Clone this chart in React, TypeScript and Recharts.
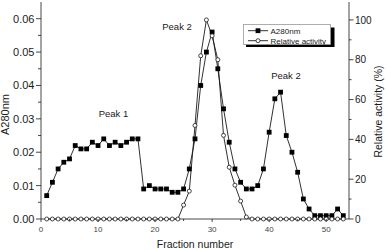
import React from 'react';
import { ComposedChart, Line, XAxis, YAxis, ReferenceDot, Legend } from 'recharts';

const FONT = "'Liberation Sans', Arial, Helvetica, sans-serif";
const INK = '#1a1a1a';

const fractions = [
  1, 2, 3, 4, 5, 6, 7, 8, 9, 10,
  11, 12, 13, 14, 15, 16, 17, 18, 19, 20,
  21, 22, 23, 24, 25, 26, 27, 28, 29, 30,
  31, 32, 33, 34, 35, 36, 37, 38, 39, 40,
  41, 42, 43, 44, 45, 46, 47, 48, 49, 50,
  51, 52, 53,
];

const a280 = [
  0.007, 0.011, 0.015, 0.017, 0.018, 0.022, 0.021, 0.021, 0.023, 0.022,
  0.024, 0.022, 0.023, 0.022, 0.023, 0.024, 0.024, 0.009, 0.010, 0.009,
  0.009, 0.009, 0.008, 0.008, 0.009, 0.015, 0.024, 0.040, 0.050, 0.056,
  0.045, 0.033, 0.023, 0.015, 0.011, 0.009, 0.009, 0.010, 0.015, 0.026,
  0.036, 0.038, 0.025, 0.020, 0.014, 0.006, 0.003, 0.001, 0.001, 0.001,
  0.001, 0.003, 0.001,
];

const activity = [
  0, 0, 0, 0, 0, 0, 0, 0, 0, 0,
  0, 0, 0, 0, 0, 0, 0, 0, 0, 0,
  0, 0, 0, 0, 7, 14, 47, 82, 100, 92,
  80, 42, 26, 17, 9, 1, 0, 0, 0, 0,
  0, 0, 0, 0, 0, 0, 0, 0, 0, 0,
  0, 0, 0,
];

const xTicks = [0, 5, 10, 15, 20, 25, 30, 35, 40, 45, 50];
const xLabels = [0, 10, 20, 30, 40, 50];
const leftTicks = [0, 0.005, 0.01, 0.015, 0.02, 0.025, 0.03, 0.035, 0.04, 0.045, 0.05, 0.055, 0.06];
const leftLabels = [0, 0.01, 0.02, 0.03, 0.04, 0.05, 0.06];
const rightTicks = [0, 10, 20, 30, 40, 50, 60, 70, 80, 90, 100];
const rightLabels = [0, 20, 40, 60, 80, 100];

const peakText = ['Peak 1', 'Peak 2', 'Peak 2'];
const peakFraction = [12.7, 23.85, 42.95];
const peakA280 = [0.0317, 0.0575, 0.0428];

const data = fractions.map((f, i) => ({ fraction: f, a280: a280[i], activity: activity[i] }));

const inList = (v: number, list: number[]) => list.some((l) => Math.abs(l - v) < 1e-9);

const BottomTick = (p: any) => {
  const v = p.payload.value;
  const major = inList(v, xLabels);
  return (
    <g>
      <line x1={p.x} x2={p.x} y1={p.y} y2={p.y + (major ? 3 : 2)} stroke={INK} strokeWidth={0.8} />
      {major && (
        <text x={p.x} y={p.y + 13} textAnchor="middle" fontSize={8} fill="#444" fontFamily={FONT}>
          {v}
        </text>
      )}
    </g>
  );
};

const TopTick = (p: any) => {
  const v = p.payload.value;
  if (v === 0) return <g />;
  return <line x1={p.x} x2={p.x} y1={p.y} y2={p.y + 3.5} stroke={INK} strokeWidth={0.8} />;
};

const LeftTick = (p: any) => {
  const v = p.payload.value;
  const major = inList(v, leftLabels);
  return (
    <g>
      <line x1={p.x - (major ? 5 : 3)} x2={p.x} y1={p.y} y2={p.y} stroke={INK} strokeWidth={0.8} />
      {major && (
        <text x={p.x - 6.5} y={p.y + 4} textAnchor="end" fontSize={11} fill={INK} fontFamily={FONT}>
          {v.toFixed(2)}
        </text>
      )}
    </g>
  );
};

const RightTick = (p: any) => {
  const v = p.payload.value;
  const major = inList(v, rightLabels);
  return (
    <g>
      <line x1={p.x} x2={p.x + (major ? 4.5 : 2.5)} y1={p.y} y2={p.y} stroke={INK} strokeWidth={0.8} />
      {major && (
        <text x={p.x + 6} y={p.y + 3.6} textAnchor="start" fontSize={10} fill={INK} fontFamily={FONT}>
          {v}
        </text>
      )}
    </g>
  );
};

const SquareDot = (p: any) => {
  if (p.cx == null || p.cy == null) return <g key={p.key ?? p.index} />;
  return (
    <rect key={p.key ?? p.index} x={p.cx - 2.4} y={p.cy - 2.4} width={4.8} height={4.8} fill="#000" />
  );
};

const LegendBox = (props: any) => {
  const items = props.payload || [];
  return (
    <svg width={100} height={30} style={{ display: 'block', overflow: 'visible' }}>
      <rect x={6} y={6.5} width={88.5} height={19.5} fill="#000" />
      <rect x={3.5} y={3.5} width={87} height={20} fill="#fff" stroke="#999" strokeWidth={0.8} />
      {items.map((it: any, i: number) => {
        const y = 9.7 + i * 10;
        return (
          <g key={i}>
            <line x1={8} x2={28} y1={y} y2={y} stroke={INK} strokeWidth={0.9} />
            {it.dataKey === 'a280' ? (
              <rect x={15.6} y={y - 2.4} width={4.8} height={4.8} fill="#000" />
            ) : (
              <circle cx={18} cy={y} r={2} fill="#fff" stroke={INK} strokeWidth={0.8} />
            )}
            <text x={30.5} y={y + 2.9} fontSize={8} fill={INK} fontFamily={FONT}>
              {it.value}
            </text>
          </g>
        );
      })}
    </svg>
  );
};

export default function App() {
  return (
    <div style={{ position: 'fixed', left: 0, top: 0, width: 387, height: 250, background: '#fff' }}>
      <ComposedChart width={387} height={250} data={data} margin={{ top: 2, right: 0, bottom: 0, left: 0 }}>
        <XAxis
          xAxisId="b"
          dataKey="fraction"
          type="number"
          domain={[0, 54]}
          ticks={xTicks}
          interval={0}
          tickSize={0}
          tickMargin={0}
          tickLine={false}
          height={31}
          axisLine={{ stroke: INK, strokeWidth: 0.8 }}
          tick={BottomTick}
          label={{
            content: () => (
              <text x={195} y={248} textAnchor="middle" fontSize={10.5} fill={INK} fontFamily={FONT}>
                Fraction number
              </text>
            ),
          }}
        />
        <XAxis
          xAxisId="t"
          orientation="top"
          type="number"
          domain={[0, 54]}
          ticks={xTicks}
          interval={0}
          tickSize={0}
          tickMargin={0}
          tickLine={false}
          height={0}
          axisLine={{ stroke: INK, strokeWidth: 0.8 }}
          tick={TopTick}
        />
        <YAxis
          yAxisId="l"
          orientation="left"
          type="number"
          domain={[0, 0.065]}
          ticks={leftTicks}
          interval={0}
          tickSize={0}
          tickMargin={0}
          tickLine={false}
          width={41}
          axisLine={{ stroke: INK, strokeWidth: 0.8 }}
          tick={LeftTick}
          label={{
            content: () => (
              <text transform="translate(9,114.5) rotate(-90)" textAnchor="middle" fontSize={11} fill={INK} fontFamily={FONT}>
                A280nm
              </text>
            ),
          }}
        />
        <YAxis
          yAxisId="r"
          orientation="right"
          type="number"
          domain={[0, 109]}
          ticks={rightTicks}
          interval={0}
          tickSize={0}
          tickMargin={0}
          tickLine={false}
          width={38}
          axisLine={{ stroke: INK, strokeWidth: 0.8 }}
          tick={RightTick}
          label={{
            content: () => (
              <text transform="translate(381.5,111.5) rotate(-90)" textAnchor="middle" fontSize={10.5} fill={INK} fontFamily={FONT}>
                Relative activity (%)
              </text>
            ),
          }}
        />
        <Legend
          layout="horizontal"
          verticalAlign="middle"
          align="center"
          wrapperStyle={{ left: 240, top: 21, width: 100, height: 30 }}
          content={LegendBox}
        />
        <Line
          xAxisId="b"
          yAxisId="l"
          dataKey="a280"
          name="A280nm"
          type="linear"
          stroke={INK}
          strokeWidth={0.9}
          dot={SquareDot}
          activeDot={false}
          isAnimationActive={false}
        />
        <Line
          xAxisId="b"
          yAxisId="r"
          dataKey="activity"
          name="Relative activity"
          type="linear"
          stroke={INK}
          strokeWidth={0.9}
          dot={{ r: 2, fill: '#fff', stroke: INK, strokeWidth: 0.8 }}
          activeDot={false}
          isAnimationActive={false}
        />
        {peakText.map((t, i) => (
          <ReferenceDot
            key={i}
            xAxisId="b"
            yAxisId="l"
            x={peakFraction[i]}
            y={peakA280[i]}
            r={0}
            fill="none"
            stroke="none"
            label={{ value: t, position: 'center', fontSize: 9.5, fill: INK, fontFamily: FONT }}
          />
        ))}
      </ComposedChart>
    </div>
  );
}
